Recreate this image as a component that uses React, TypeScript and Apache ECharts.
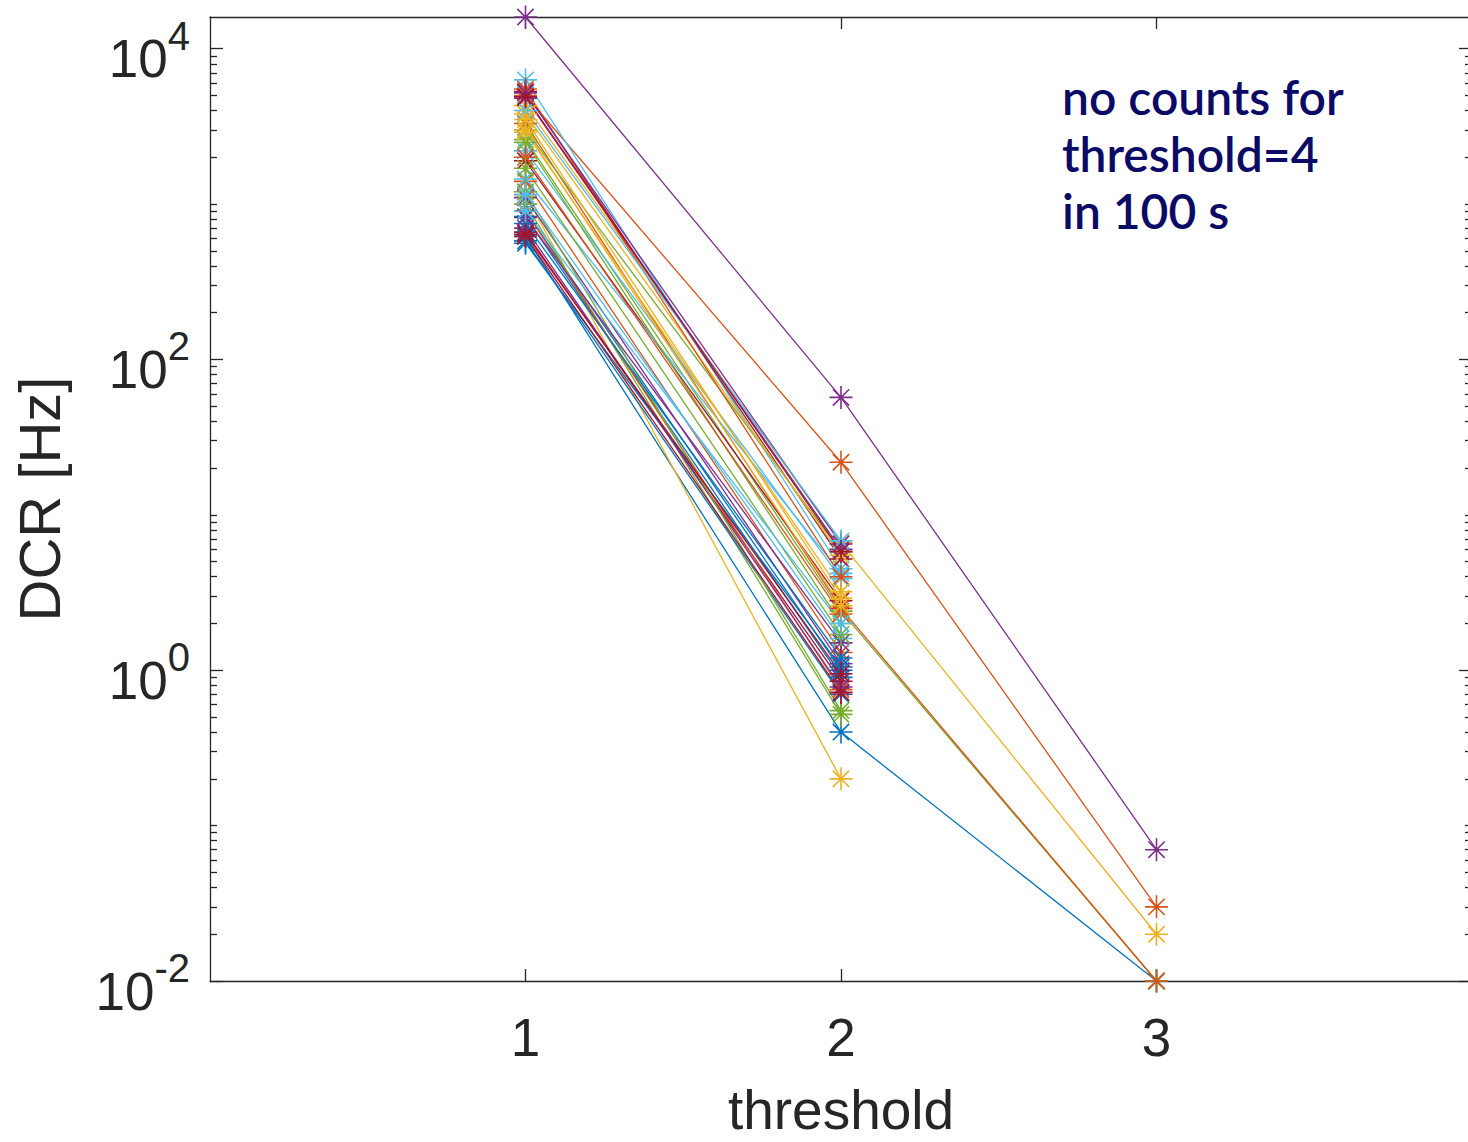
import React, { useEffect, useRef } from 'react';
import * as echarts from 'echarts';

// x positions (threshold levels)
const thresholds = [1, 2, 3];

// DCR [Hz] per channel at threshold 1, 2, 3 (null = no count recorded)
const dcrThr1 = [620, 5000, 4300, 16000, 2600, 6300, 5300, 900, 3300, 1150, 4800, 3000, 2200, 1900, 830, 1400, 3800, 1100, 1000, 1450, 660, 580, 5500, 2900, 5200, 2500, 4000, 4900, 560, 900, 3500, 700, 1200, 1150, 620, 750, 2000, 3000, 820, 1700, 900, 640];
const dcrThr2 = [0.40, 21.8, 6.6, 57, 2.4, 4.5, 5.2, 1.0, 2.5, 0.2, 6.0, 5.8, 3.9, 2.8, 0.9, 1.3, 5.5, 1.1, 0.52, 4.2, 0.85, 0.7, 4.0, 3.2, 6.5, 2.0, 6.8, 5.8, 1.05, 0.75, 2.9, 0.78, 0.55, 1.6, 0.72, 1.2, 2.3, 2.6, 1.5, 1.7, 2.0, 0.95];
const dcrThr3: (number | null)[] = [0.01, 0.03, 0.02, 0.07, 0.01, null, null, null, 0.01, null, null, null, null, null, null, null, null, null, null, null, null, null, null, null, null, null, null, null, null, null, null, null, null, null, null, null, null, null, null, null, null, null];

const matlabColors = ['#0072BD', '#D95319', '#EDB120', '#7E2F8E', '#77AC30', '#4DBEEE', '#A2142F'];

const xTickValues = [1, 2, 3];
const yMajorTicks = [0.01, 1, 100, 10000];
const yMinorTicks = [
  0.02, 0.03, 0.04, 0.05, 0.06, 0.07, 0.08, 0.09,
  0.1, 0.2, 0.3, 0.4, 0.5, 0.6, 0.7, 0.8, 0.9,
  2, 3, 4, 5, 6, 7, 8, 9,
  10, 20, 30, 40, 50, 60, 70, 80, 90,
  200, 300, 400, 500, 600, 700, 800, 900,
  1000, 2000, 3000, 4000, 5000, 6000, 7000, 8000, 9000,
];

const annotationLines = ['no counts for', 'threshold=4', 'in 100 s'];
const xName = 'threshold';
const yName = 'DCR [Hz]';

const INK = '#262626';
const FONT = '"Liberation Sans", Arial, Helvetica, sans-serif';

export default function App() {
  const ref = useRef<HTMLDivElement>(null);

  useEffect(() => {
    document.body.style.margin = '0';
    const chart = echarts.init(ref.current!, null, { renderer: 'svg' });
    const starPath = 'path://M11,0L11,22M0,11L22,11M3.2,3.2L18.8,18.8M3.2,18.8L18.8,3.2';

    const series = dcrThr1.map((v1, i) => {
      const data: number[][] = [
        [thresholds[0], v1],
        [thresholds[1], dcrThr2[i]],
      ];
      const v3 = dcrThr3[i];
      if (v3 != null) data.push([thresholds[2], v3]);
      const c = matlabColors[i % matlabColors.length];
      return {
        type: 'line',
        data,
        xAxisIndex: 0,
        yAxisIndex: 0,
        symbol: starPath,
        symbolSize: 23,
        clip: false,
        silent: true,
        lineStyle: { color: c, width: 1.3 },
        itemStyle: { color: c, borderColor: c, borderWidth: 1.6 },
        emphasis: { disabled: true },
      };
    });

    const yBase = {
      type: 'log',
      logBase: 10,
      min: 0.01,
      max: 16000,
      splitLine: { show: false },
      minorTick: { show: false },
    };
    const lineStyle = { color: INK, width: 1.3 };

    chart.setOption({
      animation: false,
      backgroundColor: '#ffffff',
      grid: { left: 210, top: 17, right: -4, bottom: 161, containLabel: false, outerBoundsMode: 'none' },
      xAxis: [
        {
          type: 'value',
          min: 0,
          max: 4,
          position: 'bottom',
          axisLine: { show: true, lineStyle },
          axisTick: { show: true, inside: true, length: 12, customValues: xTickValues, lineStyle },
          axisLabel: { show: true, customValues: xTickValues, fontSize: 53, fontFamily: FONT, color: INK, margin: 30 },
          splitLine: { show: false },
          name: xName,
          nameLocation: 'middle',
          nameGap: 106,
          nameTextStyle: { fontSize: 55, fontFamily: FONT, color: INK, lineHeight: 46 },
        },
        {
          type: 'value',
          min: 0,
          max: 4,
          position: 'top',
          axisLine: { show: true, lineStyle },
          axisTick: { show: true, inside: true, length: 12, customValues: xTickValues, lineStyle },
          axisLabel: { show: false },
          splitLine: { show: false },
        },
      ],
      yAxis: [
        {
          ...yBase,
          position: 'left',
          axisLine: { show: true, lineStyle },
          axisTick: { show: true, inside: true, length: 13, customValues: yMajorTicks, lineStyle },
          axisLabel: {
            show: true,
            customValues: yMajorTicks,
            margin: 20,
            formatter: (v: number) => `{b|10}{s|${Math.round(Math.log10(v))}}`,
            rich: {
              b: { fontSize: 53, fontFamily: FONT, color: INK, lineHeight: 53, padding: [20, 0, 0, 0] },
              s: { fontSize: 40, fontFamily: FONT, color: INK, lineHeight: 40, padding: [0, 0, 26, 0] },
            },
          },
          name: yName,
          nameLocation: 'middle',
          nameGap: 142,
          nameTextStyle: { fontSize: 58, fontFamily: FONT, color: INK },
        },
        {
          ...yBase,
          position: 'left',
          axisLine: { show: false },
          axisTick: { show: true, inside: true, length: 7, customValues: yMinorTicks, lineStyle },
          axisLabel: { show: false },
        },
        {
          ...yBase,
          position: 'right',
          axisLine: { show: true, lineStyle },
          axisTick: { show: true, inside: true, length: 13, customValues: yMajorTicks, lineStyle },
          axisLabel: { show: false },
        },
        {
          ...yBase,
          position: 'right',
          axisLine: { show: false },
          axisTick: { show: true, inside: true, length: 7, customValues: yMinorTicks, lineStyle },
          axisLabel: { show: false },
        },
      ],
      graphic: [
        {
          type: 'text',
          left: 1062,
          top: 68,
          silent: true,
          style: {
            text: annotationLines.join('\n'),
            fill: '#0B0B66',
            font: '600 48px Lato, "Noto Sans", sans-serif',
            lineHeight: 57,
          },
        },
      ],
      series,
    } as any);

    return () => chart.dispose();
  }, []);

  return <div ref={ref} style={{ width: 1468, height: 1142 }} />;
}
